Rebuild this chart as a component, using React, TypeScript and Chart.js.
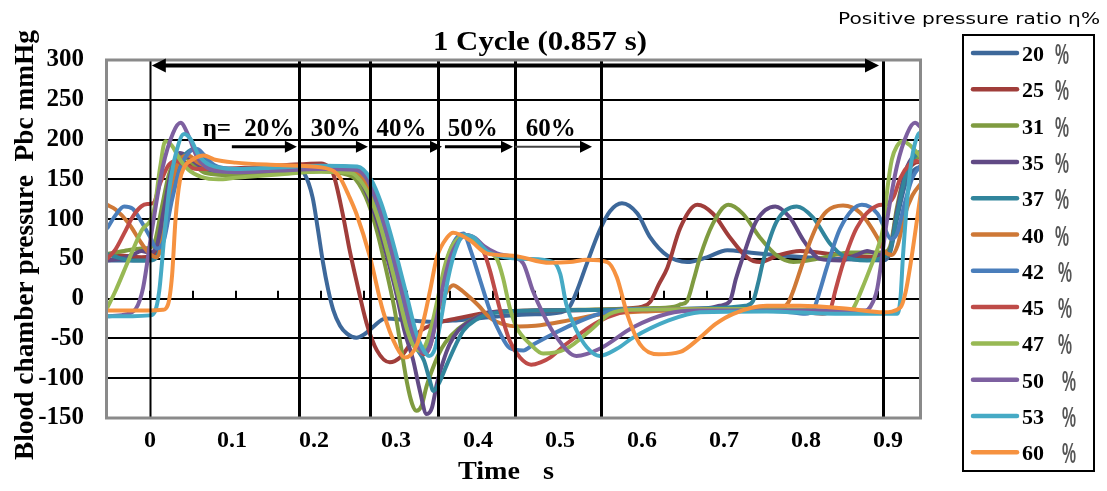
import { useEffect, useRef } from 'react';
import { Chart, registerables } from 'chart.js';

Chart.register(...registerables);

const SERIF = "'Liberation Serif', 'Times New Roman', serif";
const SANS = "'DejaVu Sans', 'Liberation Sans', sans-serif";

const seriesLabels = ['20', '25', '31', '35', '37', '40', '42', '45', '47', '50', '53', '60'];
const seriesColors = ['#3D689A', '#A03D3A', '#7F9B40', '#614A85', '#31859C', '#CE7836', '#4A7EBB', '#BE4B48', '#98B954', '#7D60A0', '#46AAC5', '#F69240'];

// [time s, pressure mmHg]
const s20 = [[-0.05, 48], [-0.03, 48], [-0.01, 48], [0.0, 50], [0.008, 62], [0.016, 100], [0.024, 140], [0.033, 162], [0.045, 168], [0.06, 163], [0.08, 160], [0.12, 161], [0.15, 163], [0.172, 163], [0.18, 158], [0.19, 127], [0.196, 88], [0.202, 46], [0.208, 12], [0.214, -14], [0.222, -34], [0.23, -44], [0.241, -49], [0.25, -45], [0.26, -36], [0.275, -25], [0.3, -27], [0.33, -29], [0.36, -27], [0.4, -23], [0.44, -20], [0.48, -17], [0.49, -10], [0.4985, 10], [0.51, 44], [0.525, 86], [0.537, 110], [0.551, 120], [0.569, 107], [0.584, 77], [0.604, 54], [0.627, 46], [0.65, 52], [0.674, 61], [0.7, 58], [0.74, 54], [0.8, 50], [0.856, 48], [0.864, 58], [0.872, 100], [0.882, 145], [0.892, 162], [0.9, 166]];
const s25 = [[-0.05, 56], [-0.03, 54], [-0.01, 52], [0.0, 53], [0.006, 60], [0.014, 105], [0.022, 150], [0.03, 170], [0.038, 172], [0.05, 166], [0.08, 163], [0.12, 165], [0.16, 168], [0.2, 170], [0.208, 166], [0.214, 157], [0.225, 107], [0.233, 62], [0.241, 23], [0.253, -31], [0.265, -65], [0.28, -80], [0.292, -74], [0.302, -60], [0.312, -44], [0.335, -31], [0.358, -25], [0.397, -17], [0.45, -15], [0.52, -14], [0.56, -12], [0.575, -10], [0.584, -4], [0.594, 18], [0.604, 39], [0.619, 89], [0.639, 118], [0.657, 107], [0.677, 77], [0.697, 52], [0.712, 46], [0.732, 54], [0.759, 60], [0.797, 56], [0.856, 52], [0.864, 62], [0.872, 110], [0.882, 155], [0.892, 170], [0.9, 172]];
const s31 = [[-0.05, 56], [-0.03, 60], [-0.01, 63], [0.0, 64], [0.006, 72], [0.014, 115], [0.022, 155], [0.03, 175], [0.038, 180], [0.048, 172], [0.065, 158], [0.1, 155], [0.15, 158], [0.2, 160], [0.23, 156], [0.24, 150], [0.255, 120], [0.265, 85], [0.275, 40], [0.285, -10], [0.293, -60], [0.3, -105], [0.306, -132], [0.311, -141], [0.317, -135], [0.323, -110], [0.33, -88], [0.337, -70], [0.345, -55], [0.36, -38], [0.38, -24], [0.4, -17], [0.45, -15], [0.5, -14], [0.58, -12], [0.612, -10], [0.62, -7], [0.627, -3], [0.635, 25], [0.642, 52], [0.657, 94], [0.675, 118], [0.692, 107], [0.712, 77], [0.732, 54], [0.751, 46], [0.779, 50], [0.817, 58], [0.856, 58], [0.864, 66], [0.872, 115], [0.882, 160], [0.892, 176], [0.9, 178]];
const s35 = [[-0.05, 48], [-0.035, 50], [-0.02, 55], [-0.01, 60], [0.0, 58], [0.008, 66], [0.016, 110], [0.025, 160], [0.035, 183], [0.045, 178], [0.06, 166], [0.1, 160], [0.15, 162], [0.2, 163], [0.235, 160], [0.245, 150], [0.258, 120], [0.268, 88], [0.278, 48], [0.288, 5], [0.297, -40], [0.307, -76], [0.315, -115], [0.323, -145], [0.329, -138], [0.335, -107], [0.342, -80], [0.35, -57], [0.36, -40], [0.37, -31], [0.397, -17], [0.45, -15], [0.55, -14], [0.65, -12], [0.665, -9], [0.677, -3], [0.684, 25], [0.692, 52], [0.708, 98], [0.73, 116], [0.747, 102], [0.763, 73], [0.782, 50], [0.806, 48], [0.825, 55], [0.837, 60], [0.856, 54], [0.864, 62], [0.872, 110], [0.882, 160], [0.892, 180], [0.9, 183]];
const s37 = [[-0.05, 56], [-0.035, 51], [-0.02, 48], [0.0, 48], [0.008, 52], [0.016, 75], [0.025, 125], [0.035, 170], [0.045, 185], [0.052, 188], [0.06, 180], [0.075, 166], [0.1, 162], [0.15, 163], [0.2, 165], [0.235, 162], [0.25, 148], [0.262, 118], [0.272, 85], [0.282, 45], [0.292, 3], [0.302, -38], [0.31, -60], [0.32, -78], [0.326, -100], [0.331, -116], [0.338, -105], [0.347, -82], [0.357, -58], [0.366, -40], [0.38, -27], [0.397, -19], [0.45, -15], [0.55, -14], [0.65, -12], [0.695, -9], [0.704, -3], [0.71, 20], [0.716, 48], [0.732, 98], [0.755, 116], [0.774, 102], [0.794, 69], [0.809, 54], [0.837, 48], [0.856, 52], [0.864, 60], [0.872, 105], [0.882, 155], [0.892, 178], [0.9, 186]];
const s40 = [[-0.05, 118], [-0.04, 112], [-0.025, 95], [-0.01, 70], [0.0, 56], [0.008, 52], [0.016, 80], [0.025, 140], [0.035, 175], [0.045, 180], [0.055, 172], [0.07, 165], [0.1, 163], [0.15, 164], [0.2, 166], [0.235, 163], [0.25, 150], [0.262, 122], [0.272, 88], [0.282, 48], [0.292, 5], [0.3, -30], [0.308, -55], [0.315, -65], [0.322, -60], [0.33, -35], [0.338, -10], [0.346, 8], [0.354, 17], [0.362, 12], [0.372, 3], [0.383, -8], [0.397, -24], [0.412, -32], [0.43, -35], [0.45, -34], [0.49, -27], [0.525, -20], [0.58, -16], [0.68, -14], [0.735, -13], [0.745, -5], [0.751, 10], [0.761, 42], [0.771, 73], [0.78, 95], [0.79, 110], [0.809, 117], [0.829, 108], [0.849, 77], [0.857, 60], [0.866, 55], [0.873, 68], [0.881, 105], [0.89, 130], [0.9, 145]];
const s42 = [[-0.05, 88], [-0.04, 105], [-0.03, 116], [-0.02, 113], [-0.01, 97], [0.0, 78], [0.008, 63], [0.016, 72], [0.025, 120], [0.035, 163], [0.045, 183], [0.055, 188], [0.063, 181], [0.075, 168], [0.1, 163], [0.15, 164], [0.2, 166], [0.24, 163], [0.255, 148], [0.265, 120], [0.275, 85], [0.285, 45], [0.295, 2], [0.305, -40], [0.312, -62], [0.318, -70], [0.325, -62], [0.332, -30], [0.34, 15], [0.348, 52], [0.357, 75], [0.366, 82], [0.374, 62], [0.385, 25], [0.397, -15], [0.409, -44], [0.42, -62], [0.436, -65], [0.447, -58], [0.466, -47], [0.486, -36], [0.525, -19], [0.564, -13], [0.65, -14], [0.74, -16], [0.765, -19], [0.774, -15], [0.782, 10], [0.79, 39], [0.806, 89], [0.831, 118], [0.849, 107], [0.857, 90], [0.865, 75], [0.872, 82], [0.881, 120], [0.89, 152], [0.9, 168]];
const s45 = [[-0.05, 50], [-0.04, 62], [-0.03, 82], [-0.02, 103], [-0.01, 116], [-0.003, 119], [0.004, 120], [0.012, 145], [0.022, 168], [0.031, 173], [0.04, 168], [0.055, 163], [0.1, 163], [0.15, 165], [0.2, 167], [0.24, 164], [0.257, 148], [0.267, 120], [0.277, 85], [0.287, 45], [0.297, 2], [0.307, -40], [0.314, -62], [0.32, -70], [0.327, -60], [0.334, -25], [0.342, 20], [0.35, 55], [0.36, 74], [0.37, 80], [0.38, 70], [0.39, 58], [0.397, 35], [0.403, 10], [0.409, -15], [0.42, -53], [0.432, -74], [0.445, -83], [0.456, -80], [0.467, -74], [0.486, -57], [0.525, -28], [0.564, -15], [0.65, -13], [0.75, -15], [0.785, -19], [0.794, -14], [0.8, 10], [0.809, 44], [0.825, 89], [0.849, 117], [0.86, 119], [0.868, 128], [0.876, 152], [0.886, 168], [0.895, 173], [0.9, 172]];
const s47 = [[-0.05, -12], [-0.04, 10], [-0.025, 48], [-0.01, 85], [0.005, 112], [0.012, 165], [0.018, 198], [0.026, 192], [0.035, 175], [0.045, 162], [0.06, 153], [0.08, 150], [0.1, 152], [0.15, 156], [0.2, 160], [0.235, 158], [0.248, 145], [0.26, 120], [0.27, 88], [0.28, 48], [0.29, 5], [0.3, -38], [0.307, -58], [0.314, -65], [0.321, -60], [0.328, -38], [0.336, 0], [0.344, 40], [0.352, 65], [0.36, 76], [0.368, 80], [0.378, 73], [0.39, 60], [0.405, 50], [0.412, 27], [0.42, -11], [0.428, -36], [0.444, -57], [0.459, -69], [0.486, -63], [0.514, -40], [0.537, -19], [0.565, -14], [0.7, -13], [0.8, -16], [0.815, -18], [0.821, -12], [0.831, 12], [0.841, 39], [0.85, 65], [0.856, 90], [0.861, 140], [0.866, 175], [0.872, 192], [0.879, 198], [0.888, 192], [0.9, 178]];
const s50 = [[-0.05, -22], [-0.03, -20], [-0.016, -12], [-0.008, 13], [0.003, 90], [0.015, 165], [0.027, 208], [0.036, 221], [0.045, 205], [0.055, 178], [0.065, 166], [0.08, 160], [0.1, 159], [0.15, 161], [0.2, 163], [0.24, 162], [0.255, 148], [0.266, 120], [0.276, 85], [0.286, 45], [0.296, 2], [0.306, -40], [0.313, -60], [0.32, -68], [0.327, -60], [0.334, -28], [0.342, 15], [0.35, 50], [0.36, 72], [0.37, 80], [0.38, 76], [0.39, 66], [0.405, 57], [0.425, 52], [0.436, 44], [0.447, 10], [0.459, -19], [0.475, -49], [0.498, -72], [0.525, -63], [0.564, -36], [0.604, -19], [0.64, -15], [0.75, -15], [0.835, -15], [0.841, -10], [0.849, 13], [0.86, 96], [0.872, 167], [0.884, 208], [0.893, 221], [0.9, 215]];
const s53 = [[-0.05, -22], [-0.02, -22], [0.0, -21], [0.006, -16], [0.011, 10], [0.017, 80], [0.023, 140], [0.031, 185], [0.04, 207], [0.048, 200], [0.056, 182], [0.07, 168], [0.1, 163], [0.15, 165], [0.2, 167], [0.242, 166], [0.258, 150], [0.27, 120], [0.28, 85], [0.29, 45], [0.3, 3], [0.31, -40], [0.318, -62], [0.326, -72], [0.333, -62], [0.34, -25], [0.348, 25], [0.357, 62], [0.367, 80], [0.378, 77], [0.393, 60], [0.41, 53], [0.44, 50], [0.471, 46], [0.479, 31], [0.486, -7], [0.498, -40], [0.51, -61], [0.525, -72], [0.545, -63], [0.564, -49], [0.604, -28], [0.642, -17], [0.72, -16], [0.8, -19], [0.872, -19], [0.876, 0], [0.879, 54], [0.887, 158], [0.897, 207], [0.9, 209]];
const s60 = [[-0.05, -15], [-0.02, -15], [0.0, -15], [0.015, -14], [0.021, -8], [0.026, 30], [0.03, 100], [0.035, 148], [0.04, 165], [0.05, 175], [0.063, 180], [0.075, 175], [0.1, 171], [0.15, 168], [0.2, 165], [0.215, 160], [0.222, 152], [0.232, 130], [0.241, 107], [0.257, 52], [0.272, -15], [0.288, -61], [0.298, -74], [0.312, -57], [0.32, -25], [0.327, 10], [0.335, 52], [0.347, 77], [0.354, 83], [0.374, 73], [0.393, 57], [0.424, 54], [0.467, 45], [0.49, 46], [0.51, 49], [0.534, 46], [0.545, 27], [0.557, -19], [0.572, -57], [0.594, -70], [0.619, -67], [0.642, -49], [0.66, -32], [0.681, -19], [0.72, -9], [0.759, -9], [0.817, -13], [0.856, -17], [0.876, -11], [0.882, 8], [0.888, 45], [0.896, 104], [0.9, 135]];

const seriesData = [s20, s25, s31, s35, s37, s40, s42, s45, s47, s50, s53, s60];

const yTickValues = [-150, -100, -50, 0, 50, 100, 150, 200, 250, 300];
const xTickValues = [0, 0.1, 0.2, 0.3, 0.4, 0.5, 0.6, 0.7, 0.8, 0.9];
const xTickLabels = ['0', '0.1', '0.2', '0.3', '0.4', '0.5', '0.6', '0.7', '0.8', '0.9'];

// annotation values (time s / pressure mmHg)
const boundaryTimes = [0, 0.174, 0.2569, 0.336, 0.426, 0.5266, 0.8558];
const etaTexts = ['20%', '30%', '40%', '50%', '60%'];
const etaTextTimes = [0.1395, 0.217, 0.2936, 0.377, 0.468];
const etaPrefixTime = 0.0782;
const etaTextLevel = 205;
const arrowFrom = [0.0957, 0.175, 0.2569, 0.3444, 0.426];
const arrowTo = [0.1716, 0.2545, 0.341, 0.4238, 0.516];
const arrowLevel = 191;
const cycleArrow = [0.0023, 0.851];
const cycleLevel = 293;

function fitText(ctx: any, text: string, x: number, y: number, width: number, align: string) {
  const w = ctx.measureText(text).width;
  ctx.save();
  ctx.translate(x, y);
  ctx.scale(width / w, 1);
  ctx.textAlign = align;
  ctx.fillText(text, 0, 0);
  ctx.restore();
}

function head(ctx: any, x: number, y: number, dir: number, len: number, half: number) {
  ctx.beginPath();
  ctx.moveTo(x, y);
  ctx.lineTo(x - dir * len, y - half);
  ctx.lineTo(x - dir * len, y + half);
  ctx.closePath();
  ctx.fill();
}

const underlay = {
  id: 'underlay',
  beforeDatasetsDraw(chart: any) {
    const { ctx, scales } = chart;
    const xs = scales.x, ys = scales.y;
    const y0 = ys.getPixelForValue(0);
    ctx.save();
    ctx.strokeStyle = '#000';
    ctx.lineWidth = 2;
    for (let v = -0.05; v <= 0.9001; v += 0.05) {
      const px = Math.round(xs.getPixelForValue(v));
      ctx.beginPath();
      ctx.moveTo(px, y0);
      ctx.lineTo(px, y0 - 8);
      ctx.stroke();
    }
    ctx.restore();
  },
};

const overlay = {
  id: 'overlay',
  afterDatasetsDraw(chart: any) {
    const { ctx, chartArea: a, scales } = chart;
    const xs = scales.x, ys = scales.y;
    ctx.save();
    // boundary lines
    ctx.strokeStyle = '#000';
    boundaryTimes.forEach((t, i) => {
      const px = Math.round(xs.getPixelForValue(t)) + 0.5;
      ctx.lineWidth = i === 0 ? 2 : 3;
      ctx.beginPath();
      ctx.moveTo(px, a.top);
      ctx.lineTo(px, a.bottom);
      ctx.stroke();
    });
    // frame
    ctx.strokeStyle = '#8a8a8a';
    ctx.lineWidth = 3;
    ctx.strokeRect(a.left - 0.5, a.top, a.right - a.left, a.bottom - a.top);

    // cycle double arrow
    ctx.fillStyle = '#000';
    ctx.strokeStyle = '#000';
    const cy = ys.getPixelForValue(cycleLevel);
    const c0 = xs.getPixelForValue(cycleArrow[0]);
    const c1 = xs.getPixelForValue(cycleArrow[1]);
    ctx.lineWidth = 4;
    ctx.beginPath();
    ctx.moveTo(c0 + 10, cy);
    ctx.lineTo(c1 - 10, cy);
    ctx.stroke();
    head(ctx, c0, cy, -1, 14, 7);
    head(ctx, c1, cy, 1, 14, 7);

    // eta arrows
    const ay = ys.getPixelForValue(arrowLevel);
    arrowFrom.forEach((f, i) => {
      const p0 = xs.getPixelForValue(f);
      const p1 = xs.getPixelForValue(arrowTo[i]);
      ctx.strokeStyle = i === 4 ? '#444' : '#000';
      ctx.lineWidth = i === 4 ? 2 : 3;
      ctx.beginPath();
      ctx.moveTo(p0, ay);
      ctx.lineTo(p1 - 10, ay);
      ctx.stroke();
      ctx.fillStyle = '#000';
      head(ctx, p1, ay, 1, 12, 6);
    });

    // eta texts
    ctx.fillStyle = '#000';
    ctx.font = `bold 25px ${SERIF}`;
    ctx.textBaseline = 'alphabetic';
    const ty = ys.getPixelForValue(etaTextLevel);
    ctx.textAlign = 'center';
    ctx.fillText('η=', xs.getPixelForValue(etaPrefixTime), ty);
    etaTexts.forEach((t, i) => {
      ctx.fillText(t, xs.getPixelForValue(etaTextTimes[i]), ty);
    });

    // chart title
    ctx.font = `bold 28px ${SERIF}`;
    fitText(ctx, '1 Cycle (0.857 s)', 433, 50, 214, 'left');

    // x title
    ctx.font = `bold 26px ${SERIF}`;
    fitText(ctx, 'Time', 458, 479, 62, 'left');
    fitText(ctx, 's', 543, 479, 11, 'left');

    // y title
    ctx.save();
    ctx.translate(26, 245);
    ctx.rotate(-Math.PI / 2);
    ctx.font = `bold 27px ${SERIF}`;
    ctx.textBaseline = 'middle';
    fitText(ctx, 'Blood chamber pressure  Pbc mmHg', 0, 0, 430, 'center');
    ctx.restore();

    // legend title
    ctx.font = `16px ${SANS}`;
    ctx.textBaseline = 'alphabetic';
    fitText(ctx, 'Positive pressure ratio η%', 838, 24, 262, 'left');

    // legend box
    ctx.strokeStyle = '#000';
    ctx.lineWidth = 2;
    ctx.strokeRect(963, 35, 131, 436);
    seriesLabels.forEach((lab, i) => {
      const ly = 53 + i * 36.3;
      ctx.strokeStyle = seriesColors[i];
      ctx.lineWidth = 4.5;
      ctx.lineCap = 'round';
      ctx.beginPath();
      ctx.moveTo(973, ly);
      ctx.lineTo(1017, ly);
      ctx.stroke();
      ctx.fillStyle = '#000';
      ctx.font = `bold 22px ${SERIF}`;
      ctx.textBaseline = 'alphabetic';
      ctx.textAlign = 'left';
      ctx.fillText(lab, 1022, ly + 8);
      ctx.fillStyle = '#555';
      ctx.font = `bold 29px 'Liberation Sans', sans-serif`;
      const px = i < 6 ? 1055 : i < 9 ? 1058 : 1062;
      fitText(ctx, '%', px, ly + 11, 14, 'left');
    });
    ctx.restore();
  },
};

export default function App() {
  const ref = useRef<HTMLCanvasElement>(null);
  useEffect(() => {
    document.body.style.margin = '0';
    const datasets = seriesData.map((pts, i) => ({
      label: seriesLabels[i] + ' %',
      data: pts.map((p) => ({ x: p[0], y: p[1] })),
      borderColor: seriesColors[i],
      backgroundColor: seriesColors[i],
      borderWidth: 4,
      pointRadius: 0,
      fill: false,
      cubicInterpolationMode: 'monotone',
      order: seriesData.length - 1 - i,
      xAxisID: 'x',
      yAxisID: 'y',
    }));
    const chart = new Chart(ref.current as HTMLCanvasElement, {
      type: 'line',
      data: { datasets } as any,
      options: {
        responsive: false,
        animation: false,
        events: [],
        layout: { padding: { left: 0, top: 60, right: 186, bottom: 0 } },
        plugins: { legend: { display: false }, tooltip: { enabled: false } },
        scales: {
          x: { type: 'linear', min: -0.05, max: 0.9, display: false },
          xl: {
            type: 'linear',
            axis: 'x',
            position: 'bottom',
            min: -0.05244,
            max: 0.94024,
            afterBuildTicks: (s: any) => { s.ticks = xTickValues.map((v) => ({ value: v })); },
            afterFit: (s: any) => { s.height = 73; },
            grid: { display: false, drawTicks: false },
            border: { display: false },
            ticks: {
              autoSkip: false,
              maxRotation: 0,
              padding: 8,
              color: '#000',
              font: { family: SERIF, size: 24, weight: 'bold' },
              callback: (_v: any, i: number) => xTickLabels[i],
            },
          },
          y: {
            type: 'linear',
            min: -150,
            max: 300,
            afterBuildTicks: (s: any) => { s.ticks = yTickValues.map((v) => ({ value: v })); },
            afterFit: (s: any) => { s.width = 107; },
            grid: {
              drawTicks: false,
              lineWidth: 2,
              color: (c: any) => (c.tick && (c.tick.value === 300 || c.tick.value === -150) ? 'rgba(0,0,0,0)' : '#000'),
            },
            border: { display: false },
            ticks: {
              padding: 23,
              color: '#000',
              font: { family: SERIF, size: 25, weight: 'bold' },
            },
          },
        } as any,
      },
      plugins: [underlay, overlay],
    } as any);
    return () => chart.destroy();
  }, []);
  return (
    <div style={{ width: 1107, height: 491, background: '#fff' }}>
      <canvas ref={ref} width={1107} height={491} style={{ display: 'block' }} />
    </div>
  );
}
